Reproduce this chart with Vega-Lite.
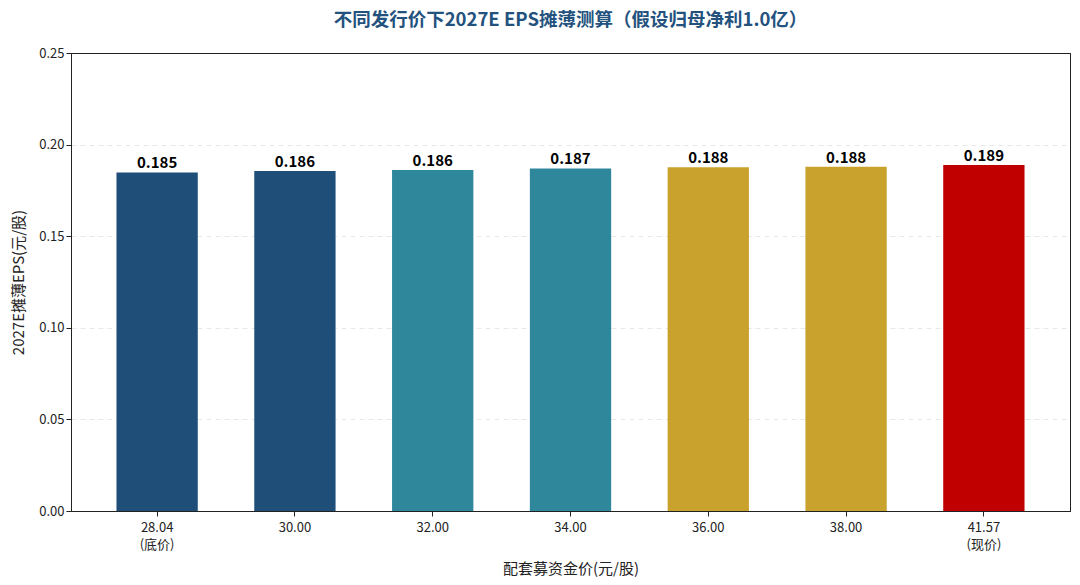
{
  "$schema": "https://vega.github.io/schema/vega-lite/v6.json",
  "width": 999,
  "height": 458,
  "autosize": {"type": "none"},
  "padding": {"left": 71, "top": 53, "right": 10, "bottom": 74},
  "background": "white",
  "title": {
    "text": "不同发行价下2027E EPS摊薄测算（假设归母净利1.0亿）",
    "font": "Noto Sans CJK SC",
    "fontSize": 18.5,
    "fontWeight": "bold",
    "color": "#24527e",
    "anchor": "middle",
    "offset": 18
  },
  "data": {
    "values": [
      {"price": "28.04", "eps": 0.1848, "group": "a"},
      {"price": "30.00", "eps": 0.1856, "group": "a"},
      {"price": "32.00", "eps": 0.1861, "group": "b"},
      {"price": "34.00", "eps": 0.1870, "group": "b"},
      {"price": "36.00", "eps": 0.1876, "group": "c"},
      {"price": "38.00", "eps": 0.1879, "group": "c"},
      {"price": "41.57", "eps": 0.1889, "group": "d"}
    ]
  },
  "encoding": {
    "x": {
      "field": "price",
      "type": "nominal",
      "sort": null,
      "scale": {"paddingInner": 0.41, "paddingOuter": 0.33},
      "axis": {
        "title": "配套募资金价(元/股)",
        "labelAngle": 0,
        "labelExpr": "datum.value == '28.04' ? ['28.04', '(底价)'] : datum.value == '41.57' ? ['41.57', '(现价)'] : datum.value",
        "labelLineHeight": 17,
        "labelPadding": 5
      }
    },
    "y": {
      "field": "eps",
      "type": "quantitative",
      "scale": {"domain": [0, 0.25]},
      "axis": {
        "title": "2027E摊薄EPS(元/股)",
        "format": ".2f",
        "values": [0, 0.05, 0.1, 0.15, 0.2, 0.25],
        "grid": true,
        "gridDash": {"condition": {"test": "datum.value >= 0.25 || datum.value <= 0", "value": []}, "value": [5, 4]},
        "gridColor": {"condition": {"test": "datum.value >= 0.25 || datum.value <= 0", "value": "#222222"}, "value": "#e2e2e2"},
        "gridWidth": {"condition": {"test": "datum.value >= 0.25 || datum.value <= 0", "value": 1}, "value": 0.8}
      }
    }
  },
  "layer": [
    {
      "mark": {"type": "bar"},
      "encoding": {
        "color": {
          "field": "group",
          "type": "nominal",
          "scale": {"domain": ["a", "b", "c", "d"], "range": ["#1f4e79", "#2e879b", "#c9a22e", "#c00000"]},
          "legend": null
        }
      }
    },
    {
      "mark": {
        "type": "text",
        "dy": -9,
        "font": "Noto Sans CJK SC",
        "fontSize": 15,
        "fontWeight": "bold",
        "color": "#000000"
      },
      "encoding": {
        "text": {"field": "eps", "type": "quantitative", "format": ".3f"}
      }
    }
  ],
  "config": {
    "view": {"stroke": "#222222", "strokeWidth": 1},
    "font": "Noto Sans CJK SC",
    "axis": {
      "labelFont": "Noto Sans CJK SC",
      "labelFontSize": 13,
      "labelColor": "#222222",
      "titleFont": "Noto Sans CJK SC",
      "titleFontSize": 15,
      "titleFontWeight": "normal",
      "titleColor": "#222222",
      "domainColor": "#222222",
      "tickColor": "#222222",
      "tickSize": 5
    },
    "axisX": {"grid": false, "titlePadding": 10},
    "axisY": {"titlePadding": 12}
  }
}
